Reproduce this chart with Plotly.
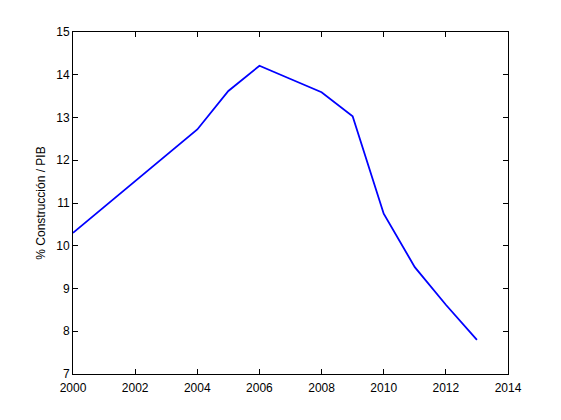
import plotly.graph_objects as go

years = [2000, 2001, 2002, 2003, 2004, 2005, 2006, 2007, 2008, 2009, 2010, 2011, 2012, 2013]
construccion_pib = [10.3, 10.9, 11.5, 12.1, 12.72, 13.62, 14.21, 13.9, 13.59, 13.03, 10.75, 9.5, 8.62, 7.8]
x_ticks = [2000, 2002, 2004, 2006, 2008, 2010, 2012, 2014]
y_ticks = [7, 8, 9, 10, 11, 12, 13, 14, 15]

fig = go.Figure(go.Scatter(x=years, y=construccion_pib, mode="lines",
                           line=dict(color="#0000ff", width=1.8)))

font = dict(family="Liberation Sans, Arial", size=12, color="black")
axis_common = dict(showgrid=False, zeroline=False, showline=True, linecolor="black",
                   linewidth=1, mirror="ticks", ticks="inside", ticklen=5,
                   tickcolor="black", tickfont=font)

fig.update_xaxes(range=[2000, 2014], tickvals=x_ticks, ticklabelstandoff=3, **axis_common)
fig.update_yaxes(range=[7, 15], tickvals=y_ticks,
                 title=dict(text="% Construcción / PIB", font=font, standoff=8),
                 **axis_common)

fig.update_layout(width=561, height=420, margin=dict(l=65, r=61, t=24, b=54),
                  plot_bgcolor="white", paper_bgcolor="white", showlegend=False)

fig.write_html("out.html")
